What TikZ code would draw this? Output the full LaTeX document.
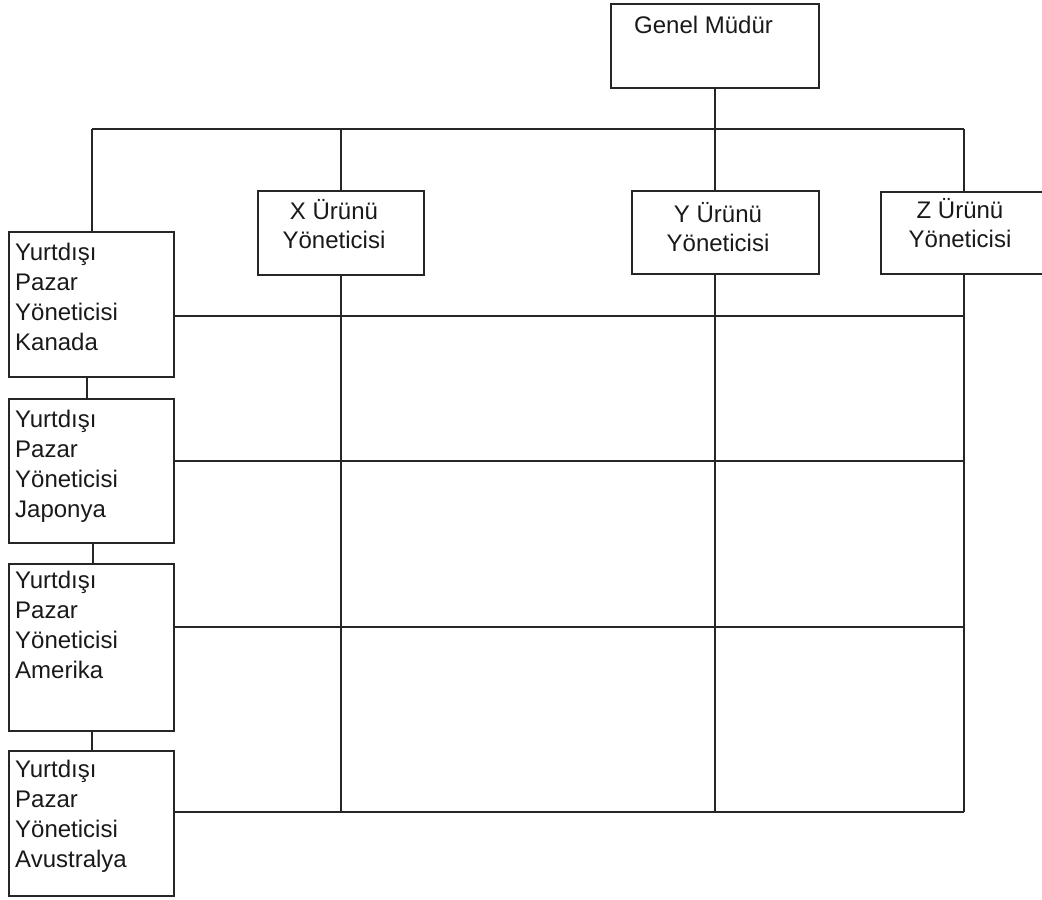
\documentclass[tikz,border=0pt]{standalone}
\usepackage{fontspec}
\setmainfont{Liberation Sans}
\begin{document}
\begin{tikzpicture}[x=1pt,y=-1pt,
  box/.style={draw=black!85, line width=1.6pt, inner sep=0pt, outer sep=0pt, anchor=north west},
  wire/.style={draw=black!85, line width=1.6pt},
  lbl/.style={inner sep=0pt, text=black!90, font=\fontsize{24}{30}\selectfont, align=left, anchor=base west},
  plbl/.style={inner sep=0pt, text=black!90, font=\fontsize{24}{29}\selectfont, align=center, anchor=base}]
\useasboundingbox (0,0) rectangle (1042,900);

% boxes
\node[box, minimum width=208pt, minimum height=84pt] (gm) at (611,4) {};
\node[box, minimum width=166pt, minimum height=84pt] (xbox) at (258,191) {};
\node[box, minimum width=187pt, minimum height=83pt] (ybox) at (632,191) {};
\node[box, minimum width=175pt, minimum height=82pt] (zbox) at (881,192) {};
\node[box, minimum width=165pt, minimum height=145pt] (kanada) at (9,232) {};
\node[box, minimum width=165pt, minimum height=144pt] (japonya) at (9,399) {};
\node[box, minimum width=165pt, minimum height=167pt] (amerika) at (9,564) {};
\node[box, minimum width=165pt, minimum height=145pt] (avustralya) at (9,751) {};

% texts (multi-line nodes sit on the baseline of their last line)
\node[lbl] (gm-t) at (634,33) {Genel Müdür};
\node[plbl] (x-t) at (334,248) {X Ürünü\\Yöneticisi};
\node[plbl] (y-t) at (718,251) {Y Ürünü\\Yöneticisi};
\node[plbl] (z-t) at (960,247) {Z Ürünü\\Yöneticisi};
\node[lbl] (kanada-t) at (15,350) {Yurtdışı\\Pazar\\Yöneticisi\\Kanada};
\node[lbl] (japonya-t) at (15,517) {Yurtdışı\\Pazar\\Yöneticisi\\Japonya};
\node[lbl] (amerika-t) at (15,678) {Yurtdışı\\Pazar\\Yöneticisi\\Amerika};
\node[lbl] (avustralya-t) at (15,867) {Yurtdışı\\Pazar\\Yöneticisi\\Avustralya};

% helper coordinates
\coordinate (bus) at (92,129);
\coordinate (zc) at (964,129);
\coordinate (r1) at (964,316);
\coordinate (r2) at (964,461);
\coordinate (r3) at (964,627);
\coordinate (r4) at (964,812);

% top bus from the general manager
\draw[wire] (gm.south) -- (gm.south |- bus);
\draw[wire] (bus) -- (zc);
\draw[wire] (kanada.north -| bus) -- (bus);
\draw[wire] (xbox.north) -- (xbox.north |- bus);
\draw[wire] (ybox.north -| gm.south) -- (gm.south |- bus);
\draw[wire] (zbox.north -| zc) -- (zc);

% chain of market managers
\draw[wire] ([xshift=-4.5pt]kanada.south) -- ([xshift=-4.5pt]japonya.north);
\draw[wire] ([xshift=1.5pt]japonya.south) -- ([xshift=1.5pt]amerika.north);
\draw[wire] ([xshift=0.5pt]amerika.south) -- ([xshift=0.5pt]avustralya.north);

% product columns
\draw[wire] (xbox.south) -- (xbox.south |- r4);
\draw[wire] (ybox.south -| gm.south) -- (gm.south |- r4);
\draw[wire] (zbox.south -| zc) -- (r4);

% market rows
\draw[wire] (r1 -| kanada.east) -- (r1);
\draw[wire] (r2 -| japonya.east) -- (r2);
\draw[wire] (r3 -| amerika.east) -- (r3);
\draw[wire] (r4 -| avustralya.east) -- (r4);
\end{tikzpicture}
\end{document}
